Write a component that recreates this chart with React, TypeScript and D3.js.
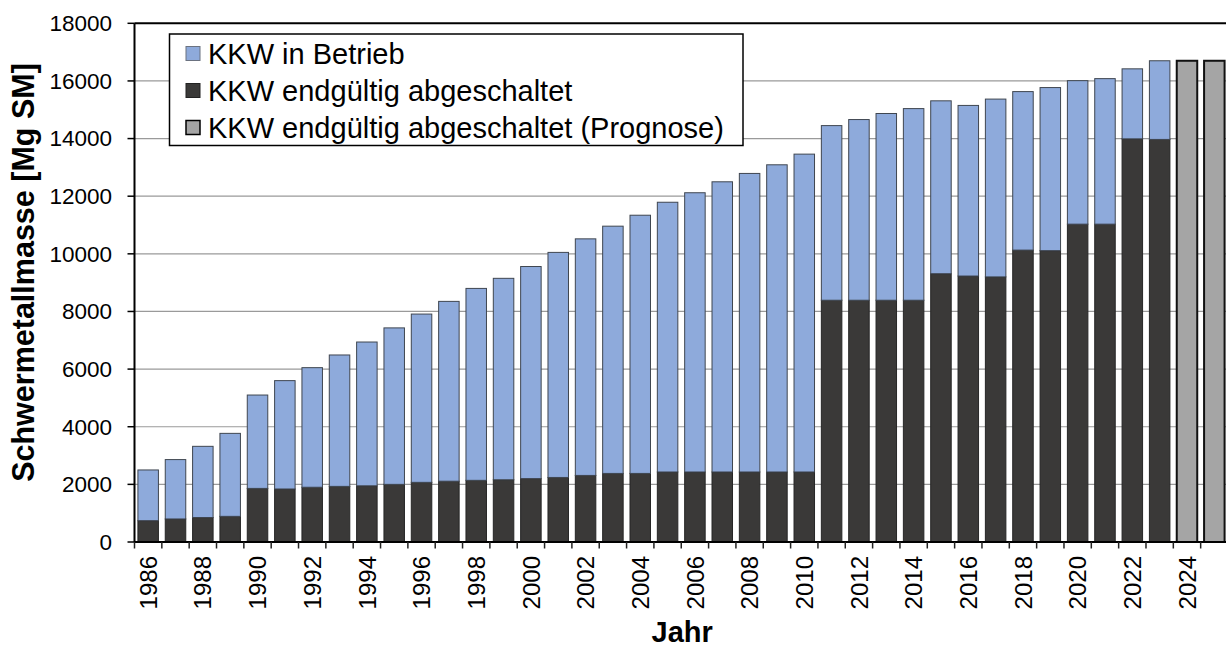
import React from "react";
import * as d3 from "d3";

const years: string[] = [
  "1986","1987","1988","1989","1990","1991","1992","1993","1994","1995",
  "1996","1997","1998","1999","2000","2001","2002","2003","2004","2005",
  "2006","2007","2008","2009","2010","2011","2012","2013","2014","2015",
  "2016","2017","2018","2019","2020","2021","2022","2023","2024","2025",
];

// KKW endgültig abgeschaltet (bottom segment)
const abgeschaltet: number[] = [
  740, 800, 850, 890, 1860, 1840, 1900, 1930, 1950, 2000,
  2070, 2110, 2140, 2160, 2200, 2240, 2310, 2380, 2380, 2430,
  2430, 2430, 2430, 2430, 2430, 8390, 8390, 8390, 8390, 9310,
  9230, 9200, 10130, 10110, 11030, 11030, 13990, 13970, 0, 0,
];

// KKW in Betrieb (top segment)
const inBetrieb: number[] = [
  1760, 2060, 2470, 2880, 3240, 3760, 4150, 4560, 4990, 5430,
  5840, 6240, 6660, 6990, 7360, 7810, 8210, 8580, 8960, 9360,
  9690, 10070, 10360, 10660, 11030, 6060, 6270, 6480, 6650, 6000,
  5920, 6170, 5500, 5660, 4980, 5050, 2430, 2730, 0, 0,
];

// KKW endgültig abgeschaltet (Prognose)
const prognose: number[] = [
  0, 0, 0, 0, 0, 0, 0, 0, 0, 0,
  0, 0, 0, 0, 0, 0, 0, 0, 0, 0,
  0, 0, 0, 0, 0, 0, 0, 0, 0, 0,
  0, 0, 0, 0, 0, 0, 0, 0, 16700, 16700,
];

const yTicks: number[] = [0, 2000, 4000, 6000, 8000, 10000, 12000, 14000, 16000, 18000];

const seriesKeys = ["abgeschaltet", "inBetrieb", "prognose"];
const legendLabels = [
  "KKW in Betrieb",
  "KKW endgültig abgeschaltet",
  "KKW endgültig abgeschaltet (Prognose)",
];
const legendKeys = ["inBetrieb", "abgeschaltet", "prognose"];

const fills: Record<string, string> = {
  inBetrieb: "#8eaadb",
  abgeschaltet: "#3a3938",
  prognose: "#a5a5a5",
};
const strokes: Record<string, string> = {
  inBetrieb: "#3f4650",
  abgeschaltet: "#262626",
  prognose: "#111111",
};
const strokeW: Record<string, number> = {
  inBetrieb: 1,
  abgeschaltet: 1,
  prognose: 2,
};

const W = 1226;
const H = 648;
const FONT = "'Liberation Sans', Arial, sans-serif";

export default function App() {
  const left = 134.5;
  const right = 1228;
  const top = 23.3;
  const bottom = 542;

  const x = d3.scaleBand<string>().domain(years).range([left, right]).paddingInner(0.25).paddingOuter(0.125);
  const y = d3.scaleLinear().domain([0, 18000]).range([bottom, top]);

  const table = years.map((yr, i) => ({
    year: yr,
    abgeschaltet: abgeschaltet[i],
    inBetrieb: inBetrieb[i],
    prognose: prognose[i],
  }));
  const stacked = d3.stack<any>().keys(seriesKeys)(table);

  const step = x.step();
  const boundaries = years.map((yr) => (x(yr) as number) - step * 0.125);

  return (
    <svg width={W} height={H} style={{ position: "absolute", left: 0, top: 0, background: "#fff" }} fontFamily={FONT}>
      {/* gridlines */}
      {yTicks.filter((t) => t > 0 && t < 18000).map((t) => (
        <line key={t} x1={left} x2={W} y1={y(t)} y2={y(t)} stroke="#9a9a9a" strokeWidth={1.2} />
      ))}
      {/* bars */}
      {stacked.map((s) => (
        <g key={s.key}>
          {s.map((d, i) => {
            const h = y(d[0]) - y(d[1]);
            if (h <= 0) return null;
            return (
              <rect
                key={i}
                x={x(years[i])}
                y={y(d[1])}
                width={x.bandwidth()}
                height={h}
                fill={fills[s.key]}
                stroke={strokes[s.key]}
                strokeWidth={strokeW[s.key]}
              />
            );
          })}
        </g>
      ))}
      {/* frame top */}
      <line x1={left} x2={W} y1={y(18000)} y2={y(18000)} stroke="#000" strokeWidth={2} />
      {/* y axis */}
      <line x1={left} x2={left} y1={y(18000)} y2={bottom} stroke="#000" strokeWidth={2} />
      {yTicks.map((t) => (
        <g key={t}>
          <line x1={left - 7} x2={left} y1={y(t)} y2={y(t)} stroke="#000" strokeWidth={1.5} />
          <text x={112} y={y(t)} dy="0.35em" textAnchor="end" fontSize={22.5} fill="#000">
            {t}
          </text>
        </g>
      ))}
      {/* x axis */}
      <line x1={left} x2={W} y1={bottom} y2={bottom} stroke="#000" strokeWidth={2} />
      {boundaries.map((bx, i) => (
        <line key={i} x1={bx} x2={bx} y1={bottom} y2={bottom + 6.5} stroke="#222" strokeWidth={1.5} />
      ))}
      {years.map((yr, i) =>
        i % 2 === 0 ? (
          <text
            key={yr}
            transform={`translate(${(x(yr) as number) + x.bandwidth() / 2},${556}) rotate(-90)`}
            textAnchor="end"
            dy="0.36em"
            fontSize={24}
            fill="#000"
          >
            {yr}
          </text>
        ) : null
      )}
      {/* axis titles */}
      <text x={(left + 1226) / 2 + 2} y={642} textAnchor="middle" fontSize={29} fontWeight="bold" fill="#000">
        Jahr
      </text>
      <text
        transform={`translate(33.5,${272.5}) rotate(-90)`}
        textAnchor="middle"
        fontSize={30.5}
        fontWeight="bold"
        fill="#000"
      >
        Schwermetallmasse [Mg SM]
      </text>
      {/* legend */}
      <g>
        <rect x={169.5} y={34} width={573.5} height={111.5} fill="#fff" stroke="#000" strokeWidth={1.5} />
        {legendKeys.map((k, i) => {
          const cy = 53.5 + i * 37;
          return (
            <g key={k}>
              <rect
                x={186}
                y={cy - 7}
                width={14}
                height={14}
                fill={fills[k]}
                stroke={k === "prognose" ? "#000" : k === "inBetrieb" ? "#6b7280" : "#222"}
                strokeWidth={k === "prognose" ? 1.5 : 1}
              />
              <text x={208} y={cy} dy="0.35em" fontSize={29} fill="#000">
                {legendLabels[i]}
              </text>
            </g>
          );
        })}
      </g>
    </svg>
  );
}
